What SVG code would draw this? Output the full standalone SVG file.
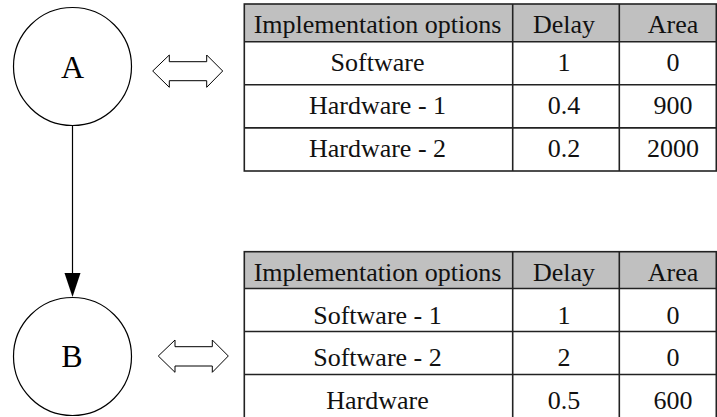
<svg xmlns="http://www.w3.org/2000/svg" width="717" height="417" viewBox="0 0 717 417">
<style>
.node{fill:#fff;stroke:#000;stroke-width:1.2}
.lbl{font-family:"Liberation Serif","Times New Roman",serif;font-size:32px;fill:#000;text-anchor:middle}
.t{font-family:"Liberation Serif","Times New Roman",serif;font-size:26px;fill:#111;text-anchor:middle}
.hdr{fill:#c0c0c0}
.grid{stroke:#222;stroke-width:1.6;fill:none}
.dbl{fill:#fff;stroke:#000;stroke-width:1}
</style>
<rect width="717" height="417" fill="#fff"/>
<g id="nodeA">
<circle class="node" cx="72.5" cy="66.5" r="59"/>
<text class="lbl" x="72.5" y="77.5">A</text>
</g>
<g id="nodeB">
<circle class="node" cx="72.5" cy="356.5" r="59"/>
<text class="lbl" x="72" y="366.5">B</text>
</g>
<g id="connectors">
<line x1="72.5" y1="125.5" x2="72.5" y2="274" stroke="#000" stroke-width="1.2"/>
<polygon points="64.5,273 80.5,273 72.5,297" fill="#000"/>
<polygon class="dbl" points="152.7,71 169.3,55 169.3,61.7 206.7,61.7 206.7,55 222.7,71 206.7,87.3 206.7,80.7 169.3,80.7 169.3,87.3"/>
<polygon class="dbl" points="158.3,356 175,340 175,346.7 212.3,346.7 212.3,340 228.3,356 212.3,372.3 212.3,366 175,366 175,372.3"/>
</g>
<g id="tableA">
<rect class="hdr" x="244.3" y="4" width="472" height="37.7"/>
<rect class="grid" x="244.3" y="4" width="472" height="167"/>
<line class="grid" x1="244.3" y1="41.7" x2="716.3" y2="41.7"/>
<line class="grid" x1="244.3" y1="84.8" x2="716.3" y2="84.8"/>
<line class="grid" x1="244.3" y1="127.9" x2="716.3" y2="127.9"/>
<line class="grid" x1="512.7" y1="4" x2="512.7" y2="171"/>
<line class="grid" x1="619.3" y1="4" x2="619.3" y2="171"/>
<text class="t" x="377.5" y="33.3">Implementation options</text>
<text class="t" x="564" y="33.3">Delay</text>
<text class="t" x="673" y="33.3">Area</text>
<text class="t" x="377.5" y="70.5">Software</text>
<text class="t" x="564" y="70.5">1</text>
<text class="t" x="673" y="70.5">0</text>
<text class="t" x="377.5" y="113.5">Hardware - 1</text>
<text class="t" x="564" y="113.5">0.4</text>
<text class="t" x="673" y="113.5">900</text>
<text class="t" x="377.5" y="156.7">Hardware - 2</text>
<text class="t" x="564" y="156.7">0.2</text>
<text class="t" x="673" y="156.7">2000</text>
</g>
<g id="tableB">
<rect class="hdr" x="244.3" y="251.7" width="472" height="36.8"/>
<rect class="grid" x="244.3" y="251.7" width="472" height="167"/>
<line class="grid" x1="244.3" y1="288.5" x2="716.3" y2="288.5"/>
<line class="grid" x1="244.3" y1="331.5" x2="716.3" y2="331.5"/>
<line class="grid" x1="244.3" y1="374.5" x2="716.3" y2="374.5"/>
<line class="grid" x1="512.7" y1="251.7" x2="512.7" y2="418"/>
<line class="grid" x1="619.3" y1="251.7" x2="619.3" y2="418"/>
<text class="t" x="377.5" y="281">Implementation options</text>
<text class="t" x="564" y="281">Delay</text>
<text class="t" x="673" y="281">Area</text>
<text class="t" x="377.5" y="323.5">Software - 1</text>
<text class="t" x="564" y="323.5">1</text>
<text class="t" x="673" y="323.5">0</text>
<text class="t" x="377.5" y="366.3">Software - 2</text>
<text class="t" x="564" y="366.3">2</text>
<text class="t" x="673" y="366.3">0</text>
<text class="t" x="377.5" y="409.3">Hardware</text>
<text class="t" x="564" y="409.3">0.5</text>
<text class="t" x="673" y="409.3">600</text>
</g>
</svg>
